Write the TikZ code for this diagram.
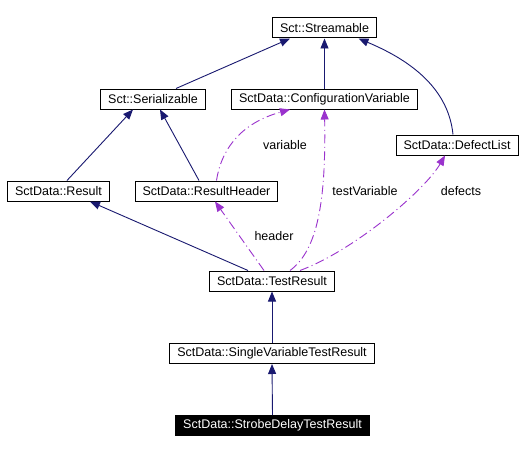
\documentclass[tikz,border=0pt]{standalone}
\usepackage{fontspec}
\setmainfont{Liberation Sans}
\usetikzlibrary{arrows.meta,backgrounds}

\definecolor{inhblue}{HTML}{191970}
\definecolor{usepurple}{HTML}{9A32CD}

\begin{document}
\begin{tikzpicture}[x=1pt,y=-1pt,>={Triangle[length=10pt,width=8pt]}]

	\tikzstyle{cls}   = [rectangle, draw=black, line width=1pt, fill=white, minimum height=20pt, inner xsep=7.5pt, inner ysep=2pt]
	\tikzstyle{main cls}   = [cls, fill=black, text=white]
	\tikzstyle{inh} = [->, draw=inhblue, line width=0.9pt]
	\tikzstyle{use} = [->, draw=usepurple, line width=0.9pt, dash pattern=on 9pt off 3.5pt on 1pt off 3.5pt]
	\tikzstyle{lbl} = [inner sep=1pt]

	\useasboundingbox (0,0) rectangle (522,452);

	\begin{scope}
		\fontsize{12.5}{15}\selectfont
		\node [cls] (strm) at (324.5,28) {Sct::Streamable};
		\node [cls] (ser) at (153,99) {Sct::Serializable};
		\node [cls] (cfg) at (324.5,99) {SctData::ConfigurationVariable};
		\node [cls] (dl) at (457,145) {SctData::DefectList};
		\node [cls] (res) at (58.5,191) {SctData::Result};
		\node [cls] (rh) at (206.5,191) {SctData::ResultHeader};
		\node [cls] (tr) at (272,281) {SctData::TestResult};
		\node [cls] (svtr) at (272,353.5) {SctData::SingleVariableTestResult};
		\node [main cls] (sdtr) at (272.5,425.5) {SctData::StrobeDelayTestResult};

		\node [lbl] (lvar) at (285,145) {variable};
		\node [lbl] (ltv) at (365,191) {testVariable};
		\node [lbl] (ldef) at (461,191) {defects};
		\node [lbl] (lhdr) at (274,236) {header};

		% inheritance
		\draw [inh] ([xshift=23pt]ser.north) -- ([xshift=-34.5pt]strm.south);
		\draw [inh] (cfg.north) -- (strm.south);
		\draw [inh] ([xshift=-4pt]dl.north) .. controls (448,85) and (405,58) .. ([xshift=34pt]strm.south);
		\draw [inh] ([xshift=8.5pt]res.north) -- ([xshift=-20pt]ser.south);
		\draw [inh] ([xshift=-7.5pt]rh.north) -- ([xshift=7pt]ser.south);
		\draw [inh] ([xshift=-24pt]tr.north) -- ([xshift=31.5pt]res.south);
		\draw [inh] (svtr.north) -- (tr.south);
		\draw [inh] (sdtr.north) -- (svtr.south);

		% usage
		\draw [use] ([xshift=-8pt]tr.north) -- ([xshift=8.5pt]rh.south);
		\draw [use] ([xshift=10pt]rh.north) .. controls (222,145) and (245,122) .. ([xshift=-34.5pt]cfg.south);
		\draw [use] ([xshift=18pt]tr.north) .. controls (318,250) and (326,200) .. (cfg.south);
		\draw [use] ([xshift=28pt]tr.north) .. controls (355,250) and (425,190) .. ([xshift=-12pt]dl.south);
	\end{scope}
	\begin{pgfonlayer}{background}
		\fill [white] (0,0) rectangle (522,452);
	\end{pgfonlayer}
\end{tikzpicture}
\end{document}
